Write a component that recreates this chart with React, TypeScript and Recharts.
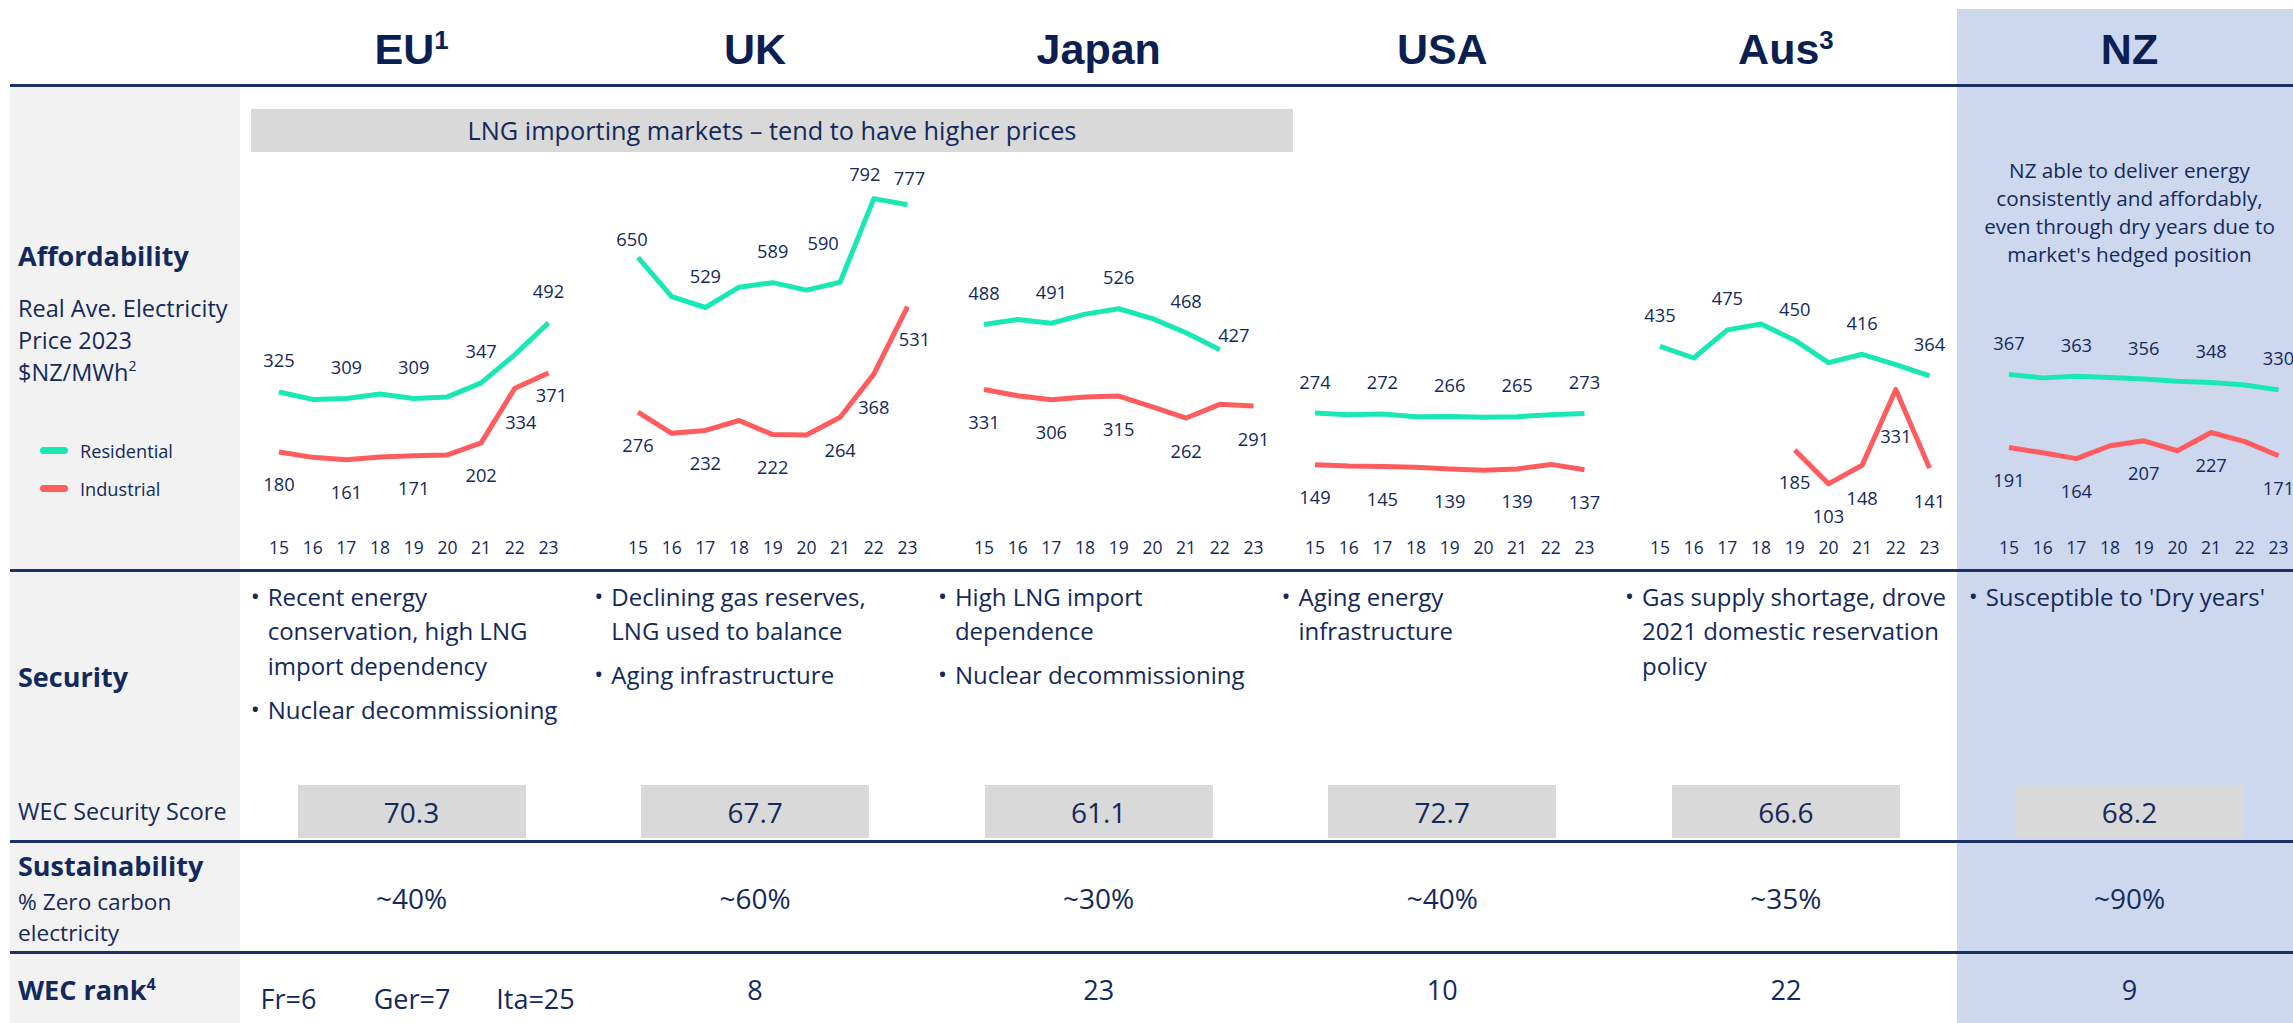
import React from 'react';
import { LineChart, Line, XAxis, YAxis, LabelList } from 'recharts';

// ---------- DATA ----------
const years = ['15', '16', '17', '18', '19', '20', '21', '22', '23'];
const countries = ['EU', 'UK', 'Japan', 'USA', 'Aus', 'NZ'];
const countrySup = ['1', '', '', '', '3', ''];

const euResidential = [325, 307, 309, 320, 309, 313, 347, 415, 492];
const euIndustrial = [180, 167, 161, 168, 171, 173, 202, 334, 371];
const ukResidential = [650, 555, 529, 578, 589, 571, 590, 792, 777];
const ukIndustrial = [276, 225, 232, 256, 222, 221, 264, 368, 531];
const japanResidential = [488, 500, 491, 513, 526, 502, 468, 427, null];
const japanIndustrial = [331, 316, 306, 313, 315, 289, 262, 295, 291];
const usaResidential = [274, 270, 272, 265, 266, 264, 265, 270, 273];
const usaIndustrial = [149, 146, 145, 143, 139, 136, 139, 150, 137];
const ausResidential = [435, 407, 475, 489, 450, 396, 416, 391, 364];
const ausIndustrial = [null, null, null, null, 185, 103, 148, 331, 141];
const nzResidential = [367, 359, 363, 360, 356, 351, 348, 342, 330];
const nzIndustrial = [191, 178, 164, 195, 207, 183, 227, 205, 171];

// indices of points that carry a value label
const euResLabelIdx = [0, 2, 4, 6, 8];
const euIndLabelIdx = [0, 2, 4, 6, 7, 8];
const ukResLabelIdx = [0, 2, 4, 6, 7, 8];
const ukIndLabelIdx = [0, 2, 4, 6, 7, 8];
const japanResLabelIdx = [0, 2, 4, 6, 7];
const japanIndLabelIdx = [0, 2, 4, 6, 8];
const usaResLabelIdx = [0, 2, 4, 6, 8];
const usaIndLabelIdx = [0, 2, 4, 6, 8];
const ausResLabelIdx = [0, 2, 4, 6, 8];
const ausIndLabelIdx = [4, 5, 6, 7, 8];
const nzResLabelIdx = [0, 2, 4, 6, 8];
const nzIndLabelIdx = [0, 2, 4, 6, 8];

const securityBullets = [
  [['Recent energy', 'conservation, high LNG', 'import dependency'], ['Nuclear decommissioning']],
  [['Declining gas reserves,', 'LNG used to balance'], ['Aging infrastructure']],
  [['High LNG import', 'dependence'], ['Nuclear decommissioning']],
  [['Aging energy', 'infrastructure']],
  [['Gas supply shortage, drove', '2021 domestic reservation', 'policy']],
  [["Susceptible to 'Dry years'"]],
];
const wecSecurityScores = ['70.3', '67.7', '61.1', '72.7', '66.6', '68.2'];
const zeroCarbonShares = ['~40%', '~60%', '~30%', '~40%', '~35%', '~90%'];
const wecRanks = ['', '8', '23', '10', '22', '9'];
const euMemberRanks = ['Fr=6', 'Ger=7', 'Ita=25'];
const nzNote = ['NZ able to deliver energy', 'consistently and affordably,', 'even through dry years due to', "market's hedged position"];
const lngNote = 'LNG importing markets \u2013 tend to have higher prices';

// ---------- STYLE ----------
const NAVY = '#13295b';
const RULE = '#1d3063';
const RES = '#19e8b4';
const IND = '#ff5c5f';
const FONT = "'Open Sans', 'Noto Sans', sans-serif";
const HEAD_FONT = "'Liberation Sans', Arial, sans-serif";
const COL_CENTERS = [411.5, 755.1, 1098.7, 1442.3, 1785.9, 2129.5];
const COL_W = 343.6;
const CHART_X0 = [278.7, 638.1, 984.3, 1314.7, 1660.2, 2008.6];
const SPAN = 269.5;

type Ov = { [k: number]: [number, number] };

const seriesSets = [
  [euResidential, euIndustrial, euResLabelIdx, euIndLabelIdx],
  [ukResidential, ukIndustrial, ukResLabelIdx, ukIndLabelIdx],
  [japanResidential, japanIndustrial, japanResLabelIdx, japanIndLabelIdx],
  [usaResidential, usaIndustrial, usaResLabelIdx, usaIndLabelIdx],
  [ausResidential, ausIndustrial, ausResLabelIdx, ausIndLabelIdx],
  [nzResidential, nzIndustrial, nzResLabelIdx, nzIndLabelIdx],
] as any[];

// label placement tweaks [dx, dy] (style only)
const resOverrides: Ov[] = [
  {},
  { 0: [-6, -19], 6: [-17, -40], 7: [-9, -25], 8: [2, -27] },
  { 7: [14, -15] },
  {},
  {},
  {},
];
const indOverrides: Ov[] = [
  { 7: [6, 33], 8: [3, 22] },
  { 8: [7, 32] },
  {},
  {},
  { 7: [0, 46] },
  {},
];

function makeLabel(defDy: number, ov: Ov) {
  return (p: any) => {
    const { x, y, value, index } = p;
    if (value === null || value === undefined || x == null || y == null) return null;
    const o = ov[index] || [0, defDy];
    return (
      <text
        x={x + o[0]}
        y={y + o[1]}
        textAnchor="middle"
        dominantBaseline="central"
        fill={NAVY}
        fontSize={18.3}
        fontFamily={FONT}
      >
        {value}
      </text>
    );
  };
}

function PriceChart({ ci }: { ci: number }) {
  const [res, ind, resIdx, indIdx] = seriesSets[ci];
  const data = years.map((yr, i) => ({
    year: yr,
    residential: res[i],
    industrial: ind[i],
    resLabel: resIdx.includes(i) ? res[i] : null,
    indLabel: indIdx.includes(i) ? ind[i] : null,
  }));
  const ML = 40;
  const MR = 40;
  const TOP = 150;
  const plotTop = 195.3;
  const plotH = 331.2;
  const axisH = 40;
  return (
    <div style={{ position: 'absolute', left: CHART_X0[ci] - ML, top: TOP }}>
      <LineChart
        width={SPAN + ML + MR}
        height={plotTop - TOP + plotH + axisH}
        data={data}
        margin={{ top: plotTop - TOP, right: MR, left: ML, bottom: 0 }}
        style={{ fontFamily: FONT }}
      >
        <XAxis
          dataKey="year"
          axisLine={false}
          tickLine={false}
          tickSize={6}
          tickMargin={9}
          height={axisH}
          interval={0}
          tick={{ fill: NAVY, fontSize: 17.5, fontFamily: FONT }}
        />
        <YAxis hide type="number" domain={[0, 800]} width={0} />
        <Line
          dataKey="residential"
          stroke={RES}
          strokeWidth={5}
          dot={false}
          activeDot={false}
          strokeLinejoin="round"
          isAnimationActive={false}
        >
          <LabelList dataKey="resLabel" content={makeLabel(-32, resOverrides[ci])} />
        </Line>
        <Line
          dataKey="industrial"
          stroke={IND}
          strokeWidth={5}
          dot={false}
          activeDot={false}
          strokeLinejoin="round"
          isAnimationActive={false}
        >
          <LabelList dataKey="indLabel" content={makeLabel(32, indOverrides[ci])} />
        </Line>
      </LineChart>
    </div>
  );
}

function Txt(props: any) {
  const { x, y, size, bold, anchor = 'start', w = 600, children, family = FONT, color = NAVY } = props;
  const left = anchor === 'middle' ? x - w / 2 : anchor === 'end' ? x - w : x;
  return (
    <div
      style={{
        position: 'absolute',
        left,
        top: y - size * 0.55,
        width: w,
        height: size * 1.1,
        lineHeight: `${size * 1.1}px`,
        fontSize: size,
        fontWeight: bold ? 700 : 400,
        textAlign: anchor === 'middle' ? 'center' : anchor === 'end' ? 'right' : 'left',
        whiteSpace: 'nowrap',
        fontFamily: family,
        color,
      }}
    >
      {children}
    </div>
  );
}

function Rule({ y }: { y: number }) {
  return <div style={{ position: 'absolute', left: 10, top: y - 1.5, width: 2283, height: 3, background: RULE }} />;
}

function Security({ ci }: { ci: number }) {
  const colLeft = COL_CENTERS[ci] - COL_W / 2;
  const out: any[] = [];
  let y = 597;
  securityBullets[ci].forEach((para, pi) => {
    out.push(
      <Txt key={`b${pi}`} x={colLeft + 11} y={y - 1} size={24}>
        {'\u2022'}
      </Txt>
    );
    para.forEach((line, li) => {
      out.push(
        <Txt key={`l${pi}-${li}`} x={colLeft + 28} y={y} size={24}>
          {line}
        </Txt>
      );
      y += 34.5;
    });
    y += 9.5;
  });
  return <>{out}</>;
}

export default function App() {
  return (
    <div
      style={{
        position: 'absolute',
        left: 0,
        top: 0,
        width: 2293,
        height: 1023,
        overflow: 'hidden',
        background: '#ffffff',
        fontFamily: FONT,
        color: NAVY,
      }}
    >
      {/* backgrounds */}
      <div style={{ position: 'absolute', left: 10, top: 86, width: 230, height: 937, background: '#f2f2f2' }} />
      <div style={{ position: 'absolute', left: 1957, top: 9, width: 336, height: 1014, background: '#cdd8ee' }} />
      <div style={{ position: 'absolute', left: 251, top: 109, width: 1042, height: 43, background: '#d9d9d9' }} />
      {wecSecurityScores.map((s, i) => (
        <div
          key={`box${i}`}
          style={{ position: 'absolute', left: COL_CENTERS[i] - 114, top: 785, width: 228, height: 53, background: '#d9d9d9' }}
        />
      ))}

      {/* rules */}
      <Rule y={85} />
      <Rule y={570} />
      <Rule y={841} />
      <Rule y={952} />

      {/* headers */}
      {countries.map((c, i) => (
        <Txt key={`h${i}`} x={COL_CENTERS[i]} y={50} size={43} bold anchor="middle" w={300} family={HEAD_FONT} color="#0b1f52">
          {c}
          {countrySup[i] ? <sup style={{ fontSize: '0.6em', verticalAlign: '0.6em', lineHeight: 0 }}>{countrySup[i]}</sup> : null}
        </Txt>
      ))}

      {/* LNG note */}
      <Txt x={772} y={131} size={25.3} anchor="middle" w={1000}>
        {lngNote}
      </Txt>

      {/* NZ note */}
      {nzNote.map((l, i) => (
        <Txt key={`nz${i}`} x={2129.5} y={170 + i * 28} size={20.7} anchor="middle" w={330}>
          {l}
        </Txt>
      ))}

      {/* left column labels */}
      <Txt x={18} y={256} size={27} bold>
        Affordability
      </Txt>
      <Txt x={18} y={309} size={23.5}>
        Real Ave. Electricity
      </Txt>
      <Txt x={18} y={341} size={23.5}>
        Price 2023
      </Txt>
      <Txt x={18} y={373} size={23.5}>
        $NZ/MWh<sup style={{ fontSize: '0.6em', verticalAlign: '0.7em', lineHeight: 0 }}>2</sup>
      </Txt>
      <div style={{ position: 'absolute', left: 40, top: 446.5, width: 28, height: 7, borderRadius: 3.5, background: RES }} />
      <div style={{ position: 'absolute', left: 40, top: 484.5, width: 28, height: 7, borderRadius: 3.5, background: IND }} />
      <Txt x={80} y={451} size={18.2}>
        Residential
      </Txt>
      <Txt x={80} y={489} size={18.2}>
        Industrial
      </Txt>

      <Txt x={18} y={677} size={27} bold>
        Security
      </Txt>
      <Txt x={18} y={812} size={23.3}>
        WEC Security Score
      </Txt>
      <Txt x={18} y={866} size={27} bold>
        Sustainability
      </Txt>
      <Txt x={18} y={902} size={22.7}>
        % Zero carbon
      </Txt>
      <Txt x={18} y={933} size={22.7}>
        electricity
      </Txt>
      <Txt x={18} y={990} size={27} bold>
        WEC rank<sup style={{ fontSize: '0.6em', verticalAlign: '0.6em', lineHeight: 0 }}>4</sup>
      </Txt>

      {/* charts */}
      {countries.map((c, i) => (
        <PriceChart key={`ch${i}`} ci={i} />
      ))}

      {/* security text */}
      {countries.map((c, i) => (
        <Security key={`sec${i}`} ci={i} />
      ))}

      {/* scores */}
      {wecSecurityScores.map((s, i) => (
        <Txt key={`sc${i}`} x={COL_CENTERS[i]} y={812} size={28} anchor="middle" w={228}>
          {s}
        </Txt>
      ))}
      {zeroCarbonShares.map((s, i) => (
        <Txt key={`zc${i}`} x={COL_CENTERS[i]} y={898} size={28} anchor="middle" w={228}>
          {s}
        </Txt>
      ))}
      {wecRanks.map((s, i) =>
        s ? (
          <Txt key={`rk${i}`} x={COL_CENTERS[i]} y={990} size={27} anchor="middle" w={228}>
            {s}
          </Txt>
        ) : null
      )}
      {euMemberRanks.map((s, i) => (
        <Txt key={`eur${i}`} x={288.5 + i * 123.5} y={999} size={27} anchor="middle" w={120}>
          {s}
        </Txt>
      ))}
    </div>
  );
}
